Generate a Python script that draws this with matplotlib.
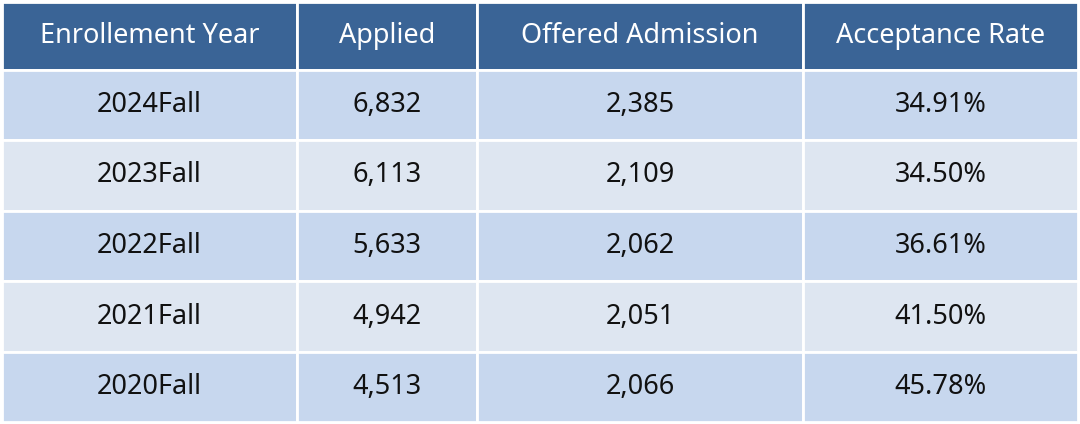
import matplotlib.pyplot as plt
from matplotlib.patches import Rectangle

headers = ["Enrollement Year", "Applied", "Offered Admission", "Acceptance Rate"]
years = ["2024Fall", "2023Fall", "2022Fall", "2021Fall", "2020Fall"]
applied = ["6,832", "6,113", "5,633", "4,942", "4,513"]
offered = ["2,385", "2,109", "2,062", "2,051", "2,066"]
rates = ["34.91%", "34.50%", "36.61%", "41.50%", "45.78%"]

col_edges = [2, 297, 477, 803, 1078]
row_edges = [2, 70, 140, 211, 281, 352, 422]

plt.rcParams['font.family'] = ['Noto Sans', 'DejaVu Sans']
fig = plt.figure(figsize=(10.8, 4.24), dpi=100)
ax = fig.add_axes([0, 0, 1, 1])
ax.set_xlim(0, 1080)
ax.set_ylim(424, 0)
ax.axis("off")

rows = [headers] + [list(r) for r in zip(years, applied, offered, rates)]
for i, row in enumerate(rows):
    y0, y1 = row_edges[i], row_edges[i + 1]
    if i == 0:
        fc, tc = "#3a6496", "white"
    elif i % 2 == 1:
        fc, tc = "#c7d7ee", "#111111"
    else:
        fc, tc = "#dee6f1", "#111111"
    for j, txt in enumerate(row):
        x0, x1 = col_edges[j], col_edges[j + 1]
        ax.add_patch(Rectangle((x0, y0), x1 - x0, y1 - y0, facecolor=fc,
                               edgecolor="white", linewidth=2))
        ax.text((x0 + x1) / 2, (y0 + y1) / 2, txt, ha="center", va="center",
                color=tc, fontsize=19.5)

fig.savefig("out.png", dpi=100, facecolor="white")
